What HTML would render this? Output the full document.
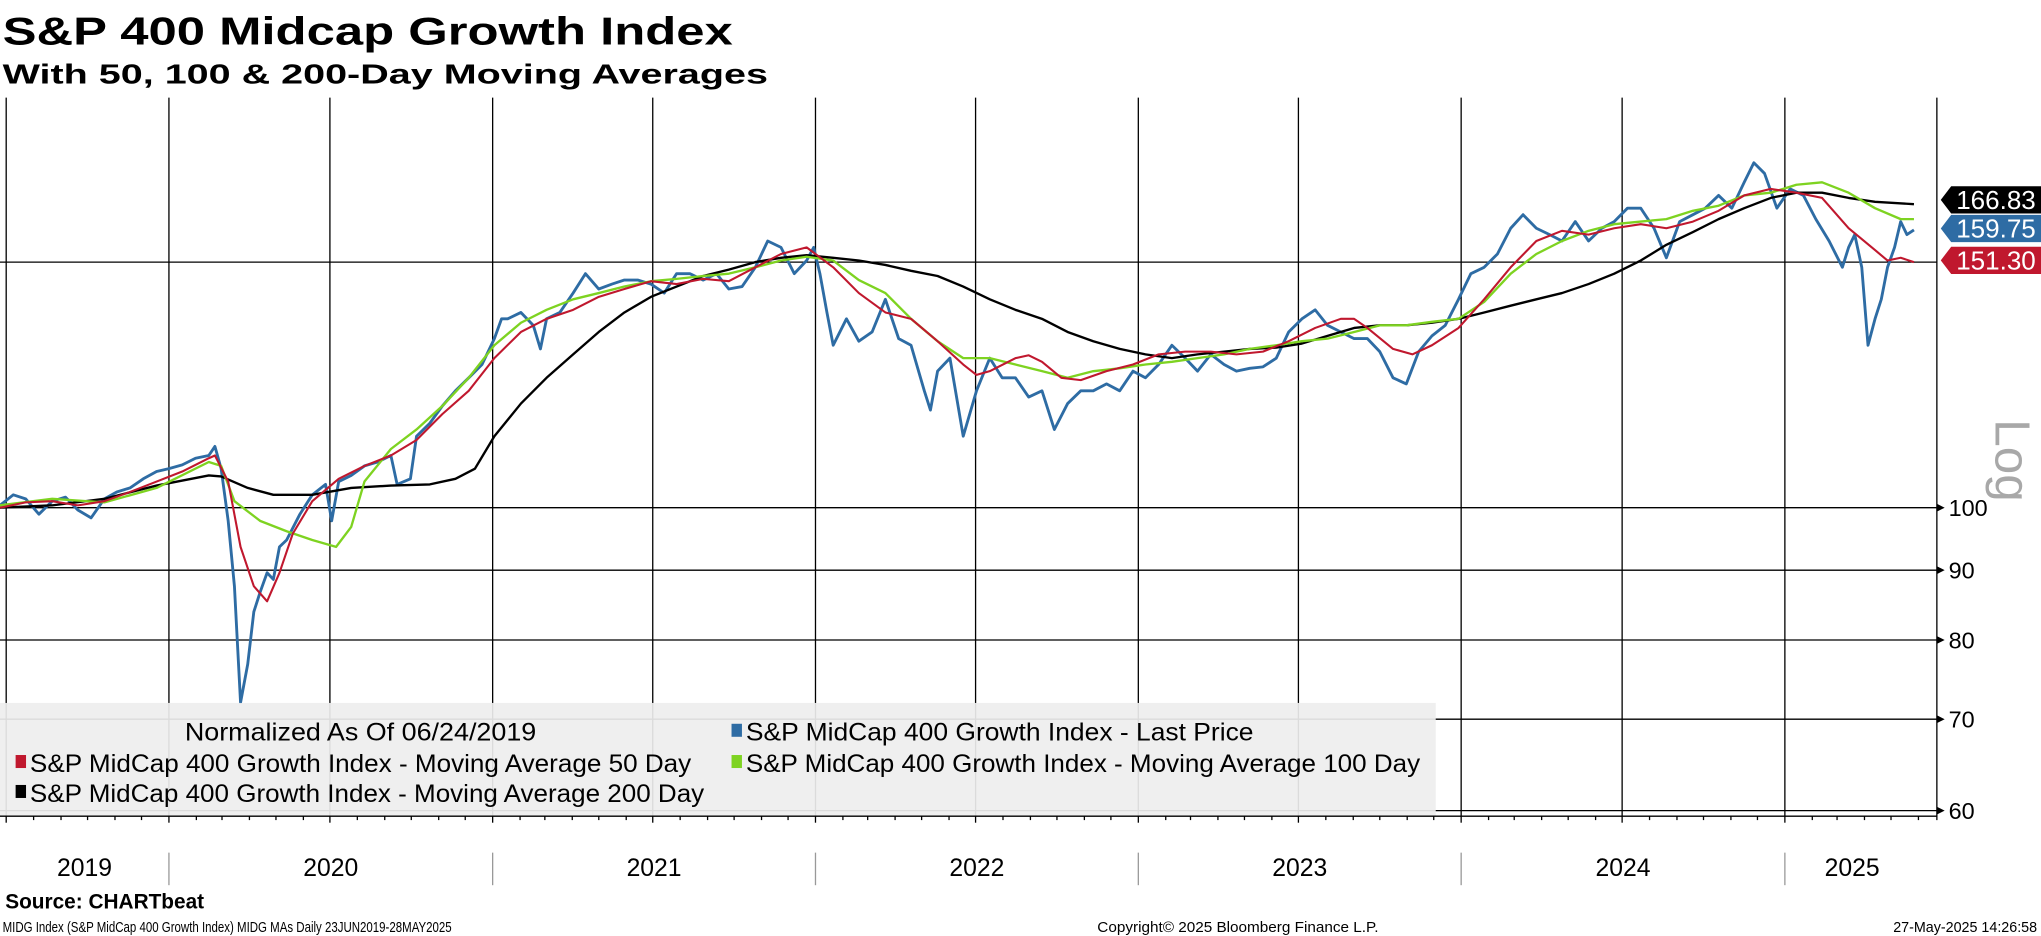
<!DOCTYPE html>
<html><head><meta charset="utf-8"><style>
html,body{margin:0;padding:0;background:#fff;}
svg{display:block;font-family:"Liberation Sans",sans-serif;}
.nar{font-family:"Liberation Sans Narrow","Liberation Sans",sans-serif;}
</style></head><body>
<svg id="chart" width="2041" height="936" viewBox="0 0 1568 719" xmlns="http://www.w3.org/2000/svg">
<text x="2" y="34" font-size="30" font-weight="bold" textLength="561" lengthAdjust="spacingAndGlyphs">S&amp;P 400 Midcap Growth Index</text>
<text x="2" y="64" font-size="21" font-weight="bold" textLength="588" lengthAdjust="spacingAndGlyphs">With 50, 100 &amp; 200-Day Moving Averages</text>
<g id="grid"></g>
<g id="series"></g>
<g>
<rect x="0" y="540" width="1103" height="87" fill="#eeeeee" fill-opacity="0.92"/>
<text class="nar" x="142" y="569" font-size="19" textLength="270" lengthAdjust="spacingAndGlyphs">Normalized As Of 06/24/2019</text>
<rect x="562" y="556" width="8" height="10" fill="#2e6ca4"/>
<text class="nar" x="573" y="569" font-size="19" textLength="390" lengthAdjust="spacingAndGlyphs">S&amp;P MidCap 400 Growth Index - Last Price</text>
<rect x="12" y="580" width="8" height="10" fill="#c0182e"/>
<text class="nar" x="23" y="593" font-size="19" textLength="508" lengthAdjust="spacingAndGlyphs">S&amp;P MidCap 400 Growth Index - Moving Average 50 Day</text>
<rect x="562" y="580" width="8" height="10" fill="#7ed321"/>
<text class="nar" x="573" y="593" font-size="19" textLength="518" lengthAdjust="spacingAndGlyphs">S&amp;P MidCap 400 Growth Index - Moving Average 100 Day</text>
<rect x="12" y="603" width="8" height="10" fill="#000"/>
<text class="nar" x="23" y="616" font-size="19" textLength="518" lengthAdjust="spacingAndGlyphs">S&amp;P MidCap 400 Growth Index - Moving Average 200 Day</text>
</g>
<g id="axes"></g>
<text transform="translate(1533,322) rotate(90)" font-size="38" fill="#a8a8a8">Log</text>
<text x="4" y="698" font-size="16" font-weight="bold">Source: CHARTbeat</text>
<text class="nar" x="2" y="716" font-size="11.5" textLength="345" lengthAdjust="spacingAndGlyphs">MIDG Index (S&amp;P MidCap 400 Growth Index) MIDG MAs  Daily 23JUN2019-28MAY2025</text>
<text x="843" y="716" font-size="11" textLength="216" lengthAdjust="spacingAndGlyphs">Copyright© 2025 Bloomberg Finance L.P.</text>
<text x="1565" y="716" font-size="11" text-anchor="end">27-May-2025 14:26:58</text>
</svg>
<script>
// days since 2019-06-24
const priceDays=[0,15,29,44,59,74,88,103,118,132,147,162,177,191,206,221,236,243,250,258,265,272,280,287,294,302,309,316,324,339,353,368,375,383,397,412,427,442,449,464,471,486,500,515,530,545,559,567,574,589,603,611,618,633,648,662,677,692,706,721,736,751,765,780,795,810,824,839,854,868,883,898,912,920,927,935,942,957,971,986,1001,1016,1030,1045,1052,1060,1074,1089,1104,1119,1133,1148,1163,1178,1192,1207,1222,1236,1251,1266,1281,1295,1310,1325,1340,1354,1369,1384,1398,1413,1428,1443,1457,1472,1487,1501,1516,1531,1546,1560,1575,1590,1604,1619,1634,1649,1663,1678,1693,1708,1722,1737,1752,1766,1781,1796,1811,1825,1840,1855,1870,1884,1899,1914,1928,1943,1958,1972,1983,1995,2009,2024,2039,2053,2068,2083,2090,2097,2105,2112,2120,2127,2134,2142,2149,2156,2164];
const priceVals=[100.4,102.2,101.5,98.9,101.1,101.8,99.6,98.3,101.5,102.7,103.4,105.0,106.3,106.8,107.5,108.7,109.2,110.9,106.8,97.8,87.6,72.0,76.8,83.9,86.7,89.6,88.6,93.6,94.7,98.9,102.2,104.0,97.8,104.5,105.6,107.3,108.0,109.2,104.0,105.0,112.8,115.3,118.7,121.8,124.5,127.3,133.0,137.5,137.5,139.0,136.0,130.7,137.5,139.0,143.6,148.4,144.6,145.8,146.8,146.8,145.8,143.6,148.4,148.4,146.8,148.4,144.6,145.2,150.0,156.8,155.1,148.4,151.7,155.1,148.4,139.0,131.5,137.5,132.4,134.5,142.1,133.0,131.5,121.8,117.9,125.9,128.7,112.8,121.8,128.7,124.5,124.5,120.5,121.8,114.1,119.2,121.8,121.8,123.2,121.8,125.9,124.5,127.3,131.5,128.7,125.9,129.5,127.3,125.9,126.5,126.8,128.7,134.5,137.5,139.6,136.0,134.5,133.0,133.0,130.1,124.5,123.2,130.1,133.6,136.0,142.1,148.4,150.0,153.4,160.2,163.9,160.2,158.5,156.8,162.0,156.8,160.2,162.0,165.7,165.7,160.2,152.4,162.0,163.9,165.7,169.3,165.7,173.1,178.9,175.7,165.7,171.2,169.3,162.7,156.8,150.0,155.1,158.5,150.0,131.5,137.5,142.1,150.0,155.1,162.0,158.5,159.75];
const ma50Days=[0,29,59,88,118,147,177,206,236,243,258,272,287,302,316,331,353,383,412,442,471,500,530,559,589,618,648,677,706,736,765,795,824,854,883,912,942,971,1001,1030,1060,1089,1104,1119,1148,1163,1178,1200,1222,1251,1281,1310,1340,1369,1398,1428,1457,1487,1516,1531,1546,1575,1597,1619,1649,1678,1708,1737,1766,1796,1825,1855,1884,1914,1943,1972,2002,2031,2060,2090,2120,2134,2149,2164];
const ma50Vals=[100,100.9,101.1,100.4,101.1,102.7,104.5,106.3,108.7,109.2,104.5,93.6,87.6,85.4,89.6,95.7,101.1,105.0,107.3,109.2,112.1,117.1,121.8,128.7,134.5,137.5,139.6,142.7,144.6,146.5,145.8,147.1,146.5,150.0,153.4,155.1,150.0,143.6,139.0,137.5,132.4,127.3,125.1,125.9,128.7,129.3,127.9,124.5,124.0,125.9,127.3,129.5,130.1,130.1,129.5,130.1,132.4,135.4,137.5,137.5,135.4,130.7,129.5,131.5,135.4,142.1,150.0,156.8,159.5,158.5,160.2,161.3,160.2,162.0,165.0,169.3,171.2,170.1,168.6,160.2,154.4,151.7,152.4,151.3];
const ma100Days=[0,59,118,177,236,250,265,294,324,353,380,397,412,442,471,500,530,559,589,618,648,677,706,736,765,795,824,854,883,912,942,971,1001,1030,1060,1089,1119,1148,1178,1207,1236,1266,1295,1325,1354,1384,1413,1443,1472,1501,1531,1560,1590,1619,1649,1678,1708,1737,1766,1796,1825,1855,1884,1914,1943,1972,2002,2031,2060,2090,2120,2149,2164];
const ma100Vals=[100.4,101.5,100.9,103.4,108.0,107.3,101.1,97.8,96.1,94.7,93.6,96.8,104.5,110.4,114.1,118.7,124.5,131.5,136.6,139.6,142.1,143.6,145.2,146.5,147.1,147.8,148.4,150.0,151.7,152.7,151.7,146.8,143.6,137.5,132.4,128.7,128.7,127.3,125.9,124.5,125.9,126.5,127.3,127.9,128.7,129.5,130.7,131.5,132.4,133.0,134.5,136.0,136.0,136.8,137.5,141.5,148.4,153.4,156.8,159.5,161.3,162.0,162.7,165.0,166.4,169.3,170.1,172.4,173.1,170.1,165.7,162.7,162.7];
const ma200Days=[0,59,118,177,236,250,280,309,353,397,442,486,515,537,559,589,618,648,677,706,736,765,795,824,854,883,912,942,971,1001,1030,1060,1089,1119,1148,1178,1207,1236,1266,1295,1325,1354,1384,1413,1443,1472,1501,1531,1560,1590,1619,1649,1678,1708,1737,1766,1796,1825,1855,1884,1914,1943,1972,2002,2031,2060,2090,2120,2164];
const ma200Vals=[100,100.4,101.5,103.8,105.6,105.4,103.4,102.2,102.2,103.4,103.8,104.0,105.0,106.8,112.8,119.2,124.5,129.5,134.5,139.0,142.7,145.2,147.8,149.4,151.3,152.4,153.1,152.4,151.7,150.6,149.1,147.8,145.2,142.1,139.6,137.5,134.5,132.4,130.7,129.5,128.7,129.5,130.1,130.7,131.0,131.9,133.6,135.4,136.0,136.0,136.6,137.5,139.0,140.6,142.1,143.6,145.8,148.4,151.7,155.8,159.2,162.7,165.7,168.6,170.1,170.1,168.6,167.5,166.83];
const yTicks=[60,70,80,90,100];
const refLevel=151.3;
const lastLabels=["166.83","159.75","151.30"];
const lastLabelVals=[166.83,159.75,151.30];
const years=["2019","2020","2021","2022","2023","2024","2025"];

const NS="http://www.w3.org/2000/svg";
const X0=0,PXD=0.6795,Y100=390,PXL=1049,TOP=75,BOT=627,RIGHT=1488;
function xs(d){return X0+d*PXD;}
function ys(v){return Y100-PXL*Math.log10(v/100);}
function dayOf(y,m,d){return Math.round((Date.UTC(y,m-1,d)-Date.UTC(2019,5,24))/86400000);}
function mk(tag,attrs,parent){const e=document.createElementNS(NS,tag);for(const k in attrs)e.setAttribute(k,attrs[k]);parent.appendChild(e);return e;}
const grid=document.getElementById('grid'),axes=document.getElementById('axes'),series=document.getElementById('series');

for(let y=2019;y<=2025;y++){for(const m of [1,7]){const d=dayOf(y,m,1);if(d<0||d>2170)continue;
 const l=mk('line',{x1:xs(d),x2:xs(d),y1:TOP,y2:BOT,stroke:'#000','stroke-width':1},grid);
 
 }}
yTicks.forEach(v=>{const l=mk('line',{x1:0,x2:RIGHT,y1:ys(v),y2:ys(v),stroke:'#000','stroke-width':1},grid);
 
 });
{const l=mk('line',{x1:0,x2:RIGHT,y1:ys(refLevel),y2:ys(refLevel),stroke:'#000','stroke-width':1},grid);
 
 }

function drawLine(days,vals,color,w,name){
 const pts=days.map((d,i)=>xs(d).toFixed(1)+','+ys(vals[i]).toFixed(1)).join(' ');
 const p=mk('polyline',{points:pts,fill:'none',stroke:color,'stroke-width':w,'stroke-linejoin':'round'},series);
 
 }
drawLine(priceDays,priceVals,'#2e6ca4',2.2,'price-line');
drawLine(ma200Days,ma200Vals,'#000000',1.8,'ma200-line');
drawLine(ma100Days,ma100Vals,'#7ed321',1.8,'ma100-line');
drawLine(ma50Days,ma50Vals,'#c0182e',1.6,'ma50-line');

{const a=mk('line',{x1:RIGHT,x2:RIGHT,y1:TOP,y2:BOT+3,stroke:'#000','stroke-width':1},axes);
 
 
 const b=mk('line',{x1:0,x2:RIGHT,y1:BOT,y2:BOT,stroke:'#000','stroke-width':1},axes);
 
 }
for(let y=2019;y<=2025;y++){for(let m=1;m<=12;m++){const d=dayOf(y,m,1);if(d<0||d>2170)continue;
 const t=mk('line',{x1:xs(d),x2:xs(d),y1:BOT,y2:BOT+(m===1||m===7?5:3),stroke:'#000','stroke-width':1},axes);
 
 }}
yTicks.forEach(v=>{const y=ys(v);
 const p=mk('path',{d:`M${RIGHT} ${y-3}L${RIGHT+6} ${y}L${RIGHT} ${y+3}Z`,fill:'#000'},axes);
 
 
 const t=mk('text',{x:RIGHT+9,y:y+6.5,'font-size':18},axes);t.textContent=String(v);
 
 });
const flagColors=['#000000','#2e6ca4','#c0182e'];
const flagYs=[153.5,175.5,200];
lastLabels.forEach((s,i)=>{const cy=flagYs[i];
 const p=mk('path',{d:`M${RIGHT+3} ${cy}L${RIGHT+11} ${cy-10.5}L1568 ${cy-10.5}L1568 ${cy+10.5}L${RIGHT+11} ${cy+10.5}Z`,fill:flagColors[i]},axes);
 
 
 const t=mk('text',{x:1564,y:cy+7,'font-size':20,fill:'#fff','text-anchor':'end'},axes);t.textContent=s;
 
 });
const yStarts=years.map((y,i)=>i===0?0:dayOf(+y,1,1));
years.forEach((y,i)=>{const s=xs(yStarts[i]);const e=i<years.length-1?xs(yStarts[i+1]):xs(2170);
 if(i>0){const l=mk('line',{x1:s,x2:s,y1:655,y2:680,stroke:'#999','stroke-width':1},axes);
  
  }
 const t=mk('text',{x:(s+e)/2,y:673,'font-size':19,'text-anchor':'middle',class:'nar'},axes);t.textContent=y;
 
 });
</script>
</body></html>
